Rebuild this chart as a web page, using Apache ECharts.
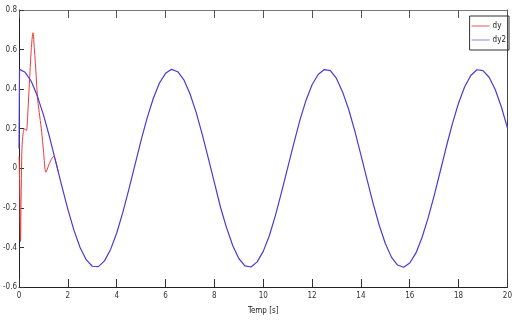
<!DOCTYPE html>
<html>
<head>
<meta charset="utf-8">
<script src="https://cdn.jsdelivr.net/npm/echarts@6/dist/echarts.min.js"></script>
<style>html,body{margin:0;padding:0;background:#fff;}#c{width:515px;height:323px;}</style>
</head>
<body>
<div id="c"></div>
<script>
var dyT = [0, 0.03, 0.06, 0.09, 0.12, 0.17, 0.22, 0.3, 0.35, 0.42, 0.5, 0.57, 0.63, 0.7, 0.76, 0.85, 0.93, 1.0, 1.1, 1.2, 1.3, 1.42, 1.5, 1.6];
var dyV = [0.06, -0.1, -0.37, -0.1, 0.1, 0.18, 0.2, 0.19, 0.26, 0.42, 0.6, 0.685, 0.6, 0.47, 0.35, 0.26, 0.18, 0.09, -0.02, 0.01, 0.04, 0.06, 0.035, -0.015];
var dy2T = [0, 0.02, 0.25, 0.5, 0.75, 1.0, 1.25, 1.5, 1.75, 2.0, 2.25, 2.5, 2.75, 3.0, 3.25, 3.5, 3.75, 4.0, 4.25, 4.5, 4.75, 5.0, 5.25, 5.5, 5.75, 6.0, 6.25, 6.5, 6.75, 7.0, 7.25, 7.5, 7.75, 8.0, 8.25, 8.5, 8.75, 9.0, 9.25, 9.5, 9.75, 10.0, 10.25, 10.5, 10.75, 11.0, 11.25, 11.5, 11.75, 12.0, 12.25, 12.5, 12.75, 13.0, 13.25, 13.5, 13.75, 14.0, 14.25, 14.5, 14.75, 15.0, 15.25, 15.5, 15.75, 16.0, 16.25, 16.5, 16.75, 17.0, 17.25, 17.5, 17.75, 18.0, 18.25, 18.5, 18.75, 19.0, 19.25, 19.5, 19.75, 20.0];
var dy2V = [0.1, 0.5, 0.485, 0.44, 0.365, 0.27, 0.158, 0.035, -0.089, -0.208, -0.314, -0.4, -0.462, -0.495, -0.497, -0.468, -0.41, -0.327, -0.223, -0.105, 0.019, 0.142, 0.256, 0.354, 0.431, 0.48, 0.5, 0.488, 0.447, 0.377, 0.284, 0.173, 0.051, -0.073, -0.197, -0.301, -0.39, -0.456, -0.493, -0.499, -0.473, -0.42, -0.341, -0.238, -0.12, 0.002, 0.125, 0.242, 0.343, 0.422, 0.474, 0.499, 0.494, 0.454, 0.386, 0.297, 0.189, 0.068, -0.056, -0.177, -0.288, -0.38, -0.449, -0.489, -0.5, -0.479, -0.429, -0.351, -0.252, -0.138, -0.015, 0.11, 0.227, 0.33, 0.412, 0.469, 0.498, 0.494, 0.46, 0.398, 0.311, 0.204];
var xTicks = [0, 2, 4, 6, 8, 10, 12, 14, 16, 18, 20];
var yTicks = [-0.6, -0.4, -0.2, 0, 0.2, 0.4, 0.6, 0.8];
var seriesNames = ['dy', 'dy2'];
var xName = 'Temp [s]';

function pairs(t, v) { return t.map(function (x, i) { return [x, v[i]]; }); }
var FONT = '"DejaVu Sans Condensed", "Liberation Sans Narrow", "Liberation Sans", Arial, sans-serif';
var chart = echarts.init(document.getElementById('c'));
chart.setOption({
  animation: false,
  backgroundColor: '#ffffff',
  grid: { left: 16, right: 5, top: 10, bottom: 36, containLabel: false },
  legend: {
    right: 6, top: 16, orient: 'vertical',
    data: seriesNames,
    borderColor: '#333', borderWidth: 1, padding: [6, 3, 6, 2], itemGap: 6,
    itemWidth: 18, itemHeight: 11, icon: 'path://M0,5L20,5L20,6L0,6Z',
    textStyle: { fontFamily: FONT, fontSize: 8, color: '#222', padding: [0, 0, 0, -2] }
  },
  xAxis: [{
    type: 'value', min: xTicks[0], max: xTicks[xTicks.length - 1], interval: 2,
    name: xName, nameLocation: 'middle', nameGap: 20,
    nameTextStyle: { fontFamily: FONT, fontSize: 8, color: '#222' },
    axisLine: { onZero: false, lineStyle: { color: '#222', width: 1 } },
    axisTick: { inside: true, length: 8, lineStyle: { color: '#333' } },
    axisLabel: { fontFamily: FONT, fontSize: 8, color: '#333', margin: 5 },
    splitLine: { show: false }
  }, {
    type: 'value', position: 'top', min: xTicks[0], max: xTicks[xTicks.length - 1], interval: 2,
    axisLine: { onZero: false, lineStyle: { color: '#777', width: 1 } },
    axisTick: { inside: true, length: 8, lineStyle: { color: '#555' } },
    axisLabel: { show: false }, splitLine: { show: false }
  }],
  yAxis: [{
    type: 'value', min: yTicks[0], max: yTicks[yTicks.length - 1], interval: 0.2,
    axisLine: { show: true, onZero: false, lineStyle: { color: '#222', width: 1 } },
    axisTick: { show: true, inside: true, length: 5, lineStyle: { color: '#333' } },
    axisLabel: { fontFamily: FONT, fontSize: 8, color: '#333', margin: 2,
      formatter: function (v) { return String(Math.round(v * 10) / 10); } },
    splitLine: { show: false }
  }, {
    type: 'value', position: 'right', min: yTicks[0], max: yTicks[yTicks.length - 1], interval: 0.2,
    axisLine: { show: true, onZero: false, lineStyle: { color: '#444', width: 1 } },
    axisTick: { show: false }, axisLabel: { show: false }, splitLine: { show: false }
  }],
  series: [{
    name: seriesNames[0], type: 'line', data: pairs(dyT, dyV), smooth: 0.3,
    showSymbol: false, lineStyle: { color: '#ee3a3a', width: 1 }, itemStyle: { color: '#d04848' }
  }, {
    name: seriesNames[1], type: 'line', data: pairs(dy2T, dy2V), smooth: false,
    showSymbol: false, lineStyle: { color: '#4a3ad6', width: 1.2 }, itemStyle: { color: '#7a78f0' }
  }]
});
</script>
</body>
</html>
